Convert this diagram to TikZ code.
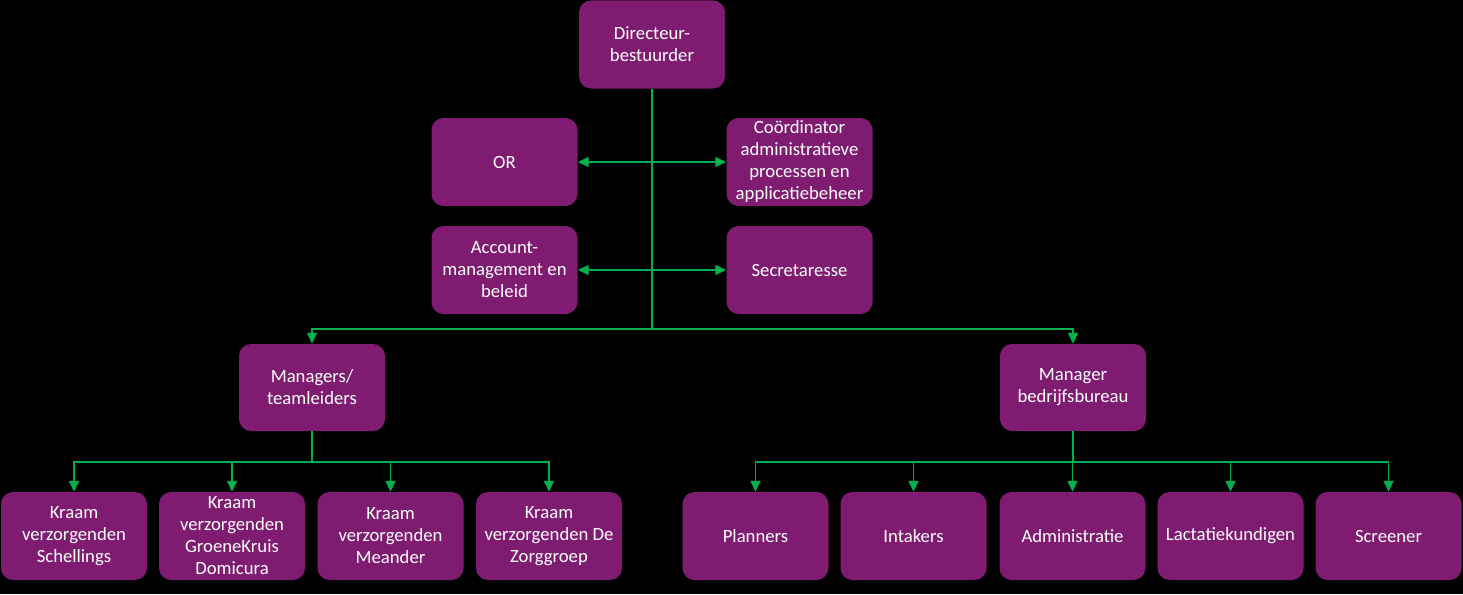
\documentclass[tikz,border=0pt]{standalone}
\usepackage{fontspec}
\setmainfont{Carlito}
\usetikzlibrary{arrows.meta}
\definecolor{boxpurple}{HTML}{7F1C72}
\definecolor{linegreen}{HTML}{00B050}
\tikzset{
  box/.style={draw=none, fill=boxpurple, rounded corners=12pt, minimum width=146pt, minimum height=88pt,
    inner sep=0pt, align=center, text=white, font=\fontsize{18.7}{22}\selectfont},
  conn/.style={draw=linegreen, line width=1.5pt},
  arr/.style={conn, -{Triangle[length=11pt,width=10pt]}},
  darr/.style={conn, {Triangle[length=11pt,width=10pt]}-{Triangle[length=11pt,width=10pt]}},
}
\begin{document}
\begin{tikzpicture}[x=1pt,y=-1pt]
\fill[black] (0,0) rectangle (1463,594);
\useasboundingbox (0,0) rectangle (1463,594);

\node[box] (dir) at (652,44.5) {Directeur-\\bestuurder};
\node[box] (or) at (504.5,162) {OR};
\node[box] (coord) at (799.5,162) {Coördinator\\administratieve\\processen en\\applicatiebeheer};
\node[box] (acc) at (504.5,270) {Account-\\management en\\beleid};
\node[box] (sec) at (799.5,270) {Secretaresse};
\node[box, minimum height=87pt] (mgr) at (312,387.5) {Managers/\\teamleiders};
\node[box, minimum height=87pt] (mb) at (1073,387.5) {Manager\\bedrijfsbureau};

\node[box] (k1) at (74,536) {Kraam\\verzorgenden\\Schellings};
\node[box] (k2) at (232,536) {Kraam\\verzorgenden\\GroeneKruis\\Domicura};
\node[box] (k3) at (390.5,536) {Kraam\\verzorgenden\\Meander};
\node[box] (k4) at (549,536) {Kraam\\verzorgenden De\\Zorggroep};

\node[box] (p1) at (755.5,536) {Planners};
\node[box] (p2) at (913.5,536) {Intakers};
\node[box] (p3) at (1072.5,536) {Administratie};
\node[box] (p4) at (1230.5,536) {Lactatiekundigen};
\node[box] (p5) at (1388.5,536) {Screener};

\coordinate (hub) at (652,329);
\coordinate (lbus) at (312,462);
\coordinate (rbus) at (1073,462);

\draw[conn] (dir.south) -- (hub);
\draw[arr] (hub) -| (mgr.north);
\draw[arr] (hub) -| (mb.north);
\draw[darr] (or.east) -- (coord.west);
\draw[darr] (acc.east) -- (sec.west);

\draw[conn] (mgr.south) -- (lbus);
\foreach \k in {k1,k2,k3,k4}{\draw[arr] (lbus) -| (\k.north);}
\draw[conn] (mb.south) -- (rbus);
\foreach \k in {p1,p2,p3,p4,p5}{\draw[arr] (rbus) -| (\k.north);}
\end{tikzpicture}
\end{document}
